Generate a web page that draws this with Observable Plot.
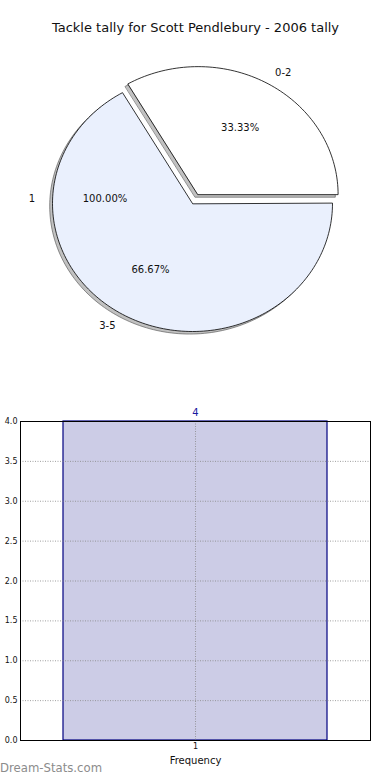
<!DOCTYPE html>
<html>
<head>
<meta charset="utf-8">
<script src="https://cdn.jsdelivr.net/npm/d3@7"></script>
<script src="https://cdn.jsdelivr.net/npm/@observablehq/plot@0.6"></script>
<style>
  html, body { margin: 0; padding: 0; background: #fff; }
  #wrap { position: relative; width: 390px; height: 780px; overflow: hidden; font-family: "DejaVu Sans", sans-serif; }
  #wrap svg { display: block; }
  #mark { position: absolute; left: 0; top: 761px; font: 11.7px "DejaVu Sans", sans-serif; color: #8c8c8c; }
</style>
</head>
<body>
<div id="wrap"></div>
<script>
// ---- data ----
const chartTitle = "Tackle tally for Scott Pendlebury - 2006 tally";
const pieLabels = ["0-2", "3-5"];
const pieValues = [1, 2];
const pieFills = ["#ffffff", "#eaf0fd"];
const pieExplode = [0.08, 0];
const singleLabels = ["1"];
const singleValues = [1];
const barCategories = [1];
const barValues = [4];
const barWidth = 0.8;
const yTicks = [0, 0.5, 1, 1.5, 2, 2.5, 3, 3.5, 4];
const xLabel = "Frequency";
const watermark = "Dream-Stats.com";

// ---- pie geometry (matplotlib-style: start at 0 rad, counterclockwise) ----
function makeSlices(labels, values, explode, cx, cy) {
  const total = d3.sum(values);
  let a0 = 0;
  return labels.map((label, i) => {
    const frac = values[i] / total;
    const a1 = a0 + frac * 2 * Math.PI;
    const mid = (a0 + a1) / 2;
    const e = explode ? explode[i] : 0;
    const ox = cx + e * Math.cos(mid), oy = cy + e * Math.sin(mid);
    const pts = [{x: ox, y: oy}];
    const n = Math.max(2, Math.ceil(frac * 240));
    for (let k = 0; k <= n; k++) {
      const a = a0 + (a1 - a0) * k / n;
      pts.push({x: ox + Math.cos(a), y: oy + Math.sin(a)});
    }
    const s = {id: i, label, frac, mid, ox, oy, pts};
    a0 = a1;
    return s;
  });
}

const slices = makeSlices(pieLabels, pieValues, pieExplode, 0, 0);
const single = makeSlices(singleLabels, singleValues, null, -0.025, 0.039);

const shadowPts = slices.flatMap(s => s.pts.map(p => ({id: s.id, x: p.x - 0.02, y: p.y - 0.02})));
const slicePts = slices.flatMap(s => s.pts.map(p => ({id: s.id, x: p.x, y: p.y, fill: pieFills[s.id]})));

const labelPts = [...slices, ...single].map(s => ({
  text: s.label,
  x: s.ox + 1.1 * Math.cos(s.mid),
  y: s.oy + 1.1 * Math.sin(s.mid)
}));
const pctPts = [...slices, ...single].map(s => ({
  text: (s.frac * 100).toFixed(2) + "%",
  x: s.ox + 0.6 * Math.cos(s.mid),
  y: s.oy + 0.6 * Math.sin(s.mid)
}));

const font = "DejaVu Sans, sans-serif";

const pie = Plot.plot({
  width: 390, height: 380,
  margin: 0,
  style: {fontFamily: font, background: "transparent"},
  x: {domain: [-192 / 140, 198 / 140], range: [0, 390], axis: null},
  y: {domain: [-177 / 128, 203 / 128], range: [380, 0], axis: null},
  color: {type: "identity"},
  marks: [
    Plot.text([chartTitle], {frameAnchor: "top", dy: 22, fontSize: 13, fill: "#111"}),
    Plot.line(shadowPts, {x: "x", y: "y", z: "id", fill: "#4d4d4d", fillOpacity: 0.35, stroke: "#4d4d4d", strokeOpacity: 0.6, strokeWidth: 1, curve: "linear-closed"}),
    Plot.line(slicePts, {x: "x", y: "y", z: "id", fill: "fill", stroke: "black", strokeWidth: 0.8, curve: "linear-closed"}),
    Plot.text(labelPts.filter(d => d.x >= 0), {x: "x", y: "y", text: "text", textAnchor: "start", fontSize: 10, fill: "#111"}),
    Plot.text(labelPts.filter(d => d.x < 0), {x: "x", y: "y", text: "text", textAnchor: "end", fontSize: 10, fill: "#111"}),
    Plot.text(pctPts, {x: "x", y: "y", text: "text", fontSize: 10, fill: "#111"})
  ]
});

// ---- bar chart ----
const bars = barCategories.map((c, i) => ({x: c, x1: c - barWidth / 2, x2: c + barWidth / 2, value: barValues[i]}));
const half = 175 / 330;

const bar = Plot.plot({
  width: 390, height: 400,
  marginTop: 41, marginBottom: 40, marginLeft: 20, marginRight: 20,
  style: {fontFamily: font, background: "transparent"},
  x: {domain: [1 - half, 1 + half]},
  y: {domain: [0, 4]},
  marks: [
    Plot.rectY(bars, {x1: "x1", x2: "x2", y1: 0, y2: "value", fill: "#000080", fillOpacity: 0.2, stroke: "#000080", strokeWidth: 1.2}),
    Plot.gridY(yTicks, {stroke: "#888", strokeOpacity: 0.8, strokeDasharray: "1,1.5"}),
    Plot.gridX(barCategories, {stroke: "#888", strokeOpacity: 0.8, strokeDasharray: "1,1.5"}),
    Plot.axisY(yTicks, {tickFormat: d => d.toFixed(1), tickSize: 0, tickPadding: 3, fontSize: 8, label: null, fill: "#111"}),
    Plot.axisX(barCategories, {tickFormat: d => String(d), tickSize: 0, tickPadding: 3, fontSize: 8, label: null, fill: "#111"}),
    Plot.text(bars, {x: "x", y: "value", text: d => String(d.value), dy: -9, fontSize: 10, fill: "#1a1aa0"}),
    Plot.text([xLabel], {frameAnchor: "bottom", lineAnchor: "middle", dy: 20, fontSize: 10, fill: "#111"}),
    Plot.frame({stroke: "#000", strokeWidth: 1})
  ]
});

const wrap = document.getElementById("wrap");
wrap.appendChild(pie);
wrap.appendChild(bar);
const wm = document.createElement("div");
wm.id = "mark";
wm.textContent = watermark;
wrap.appendChild(wm);
</script>
</body>
</html>
